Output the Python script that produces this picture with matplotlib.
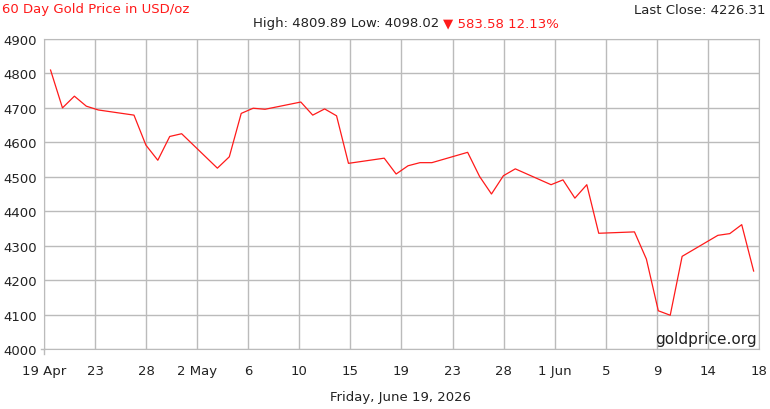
import pandas as pd
import numpy as np
import matplotlib
matplotlib.use('Agg')
import matplotlib.pyplot as plt

# daily closes (USD/oz)
dates = ['2026-04-20', '2026-04-21', '2026-04-22', '2026-04-23', '2026-04-24',
         '2026-04-27', '2026-04-28', '2026-04-29', '2026-04-30', '2026-05-01',
         '2026-05-04', '2026-05-05', '2026-05-06', '2026-05-07', '2026-05-08',
         '2026-05-11', '2026-05-12', '2026-05-13', '2026-05-14', '2026-05-15',
         '2026-05-18', '2026-05-19', '2026-05-20', '2026-05-21', '2026-05-22',
         '2026-05-25', '2026-05-26', '2026-05-27', '2026-05-28', '2026-05-29',
         '2026-06-01', '2026-06-02', '2026-06-03', '2026-06-04', '2026-06-05',
         '2026-06-08', '2026-06-09', '2026-06-10', '2026-06-11', '2026-06-12',
         '2026-06-15', '2026-06-16', '2026-06-17', '2026-06-18']
prices = [4809.89, 4700, 4734, 4705, 4694,
          4679, 4592, 4548, 4617, 4625,
          4525, 4558, 4684, 4699, 4696,
          4717, 4679, 4697, 4677, 4539,
          4554, 4508, 4532, 4541, 4541,
          4571, 4501, 4450, 4503, 4523,
          4477, 4491, 4438, 4477, 4336,
          4340, 4261, 4111, 4098.02, 4269,
          4330, 4335, 4361, 4226.31]

tick_labels = ['19 Apr', '23', '28', '2 May', '6', '10', '15', '19', '23', '28',
               '1 Jun', '5', '9', '14', '18']
y_ticks = [4000, 4100, 4200, 4300, 4400, 4500, 4600, 4700, 4800, 4900]

start = pd.Timestamp('2026-04-19')
x = np.array([(pd.Timestamp(d) - start).days for d in dates], dtype=float)
x0 = 0.45  # axis starts a little after midnight 19 Apr

fig = plt.figure(figsize=(7.7, 4.1), dpi=100)
ax = fig.add_axes([44 / 770, 60 / 410, 715 / 770, 310 / 410])

ax.plot(x, prices, color='#ff1a1a', linewidth=0.9)

ax.set_xlim(x0, x0 + 60)
ax.set_ylim(4000, 4900)
ax.set_xticks(np.linspace(x0, x0 + 60, 15))
ax.set_xticklabels(tick_labels)
ax.set_yticks(y_ticks)
ax.grid(True, color='#bbbbbb', linewidth=1)
for s in ax.spines.values():
    s.set_color('#bbbbbb')
ax.tick_params(colors='#bbbbbb', labelcolor='#222222', labelsize=9.5, length=0)
ax.tick_params(axis='x', pad=11)
ax.tick_params(axis='y', pad=5)

# small corner marks where the axes meet, like the original
ax.plot([x0, x0], [4000, 3985], color='#bbbbbb', linewidth=1, clip_on=False)
ax.plot([x0, x0 - 0.25], [4000, 4000], color='#bbbbbb', linewidth=1, clip_on=False)

fig.text(2 / 770, 1 - 9 / 410, '60 Day Gold Price in USD/oz', color='#ff1a1a',
         fontsize=9.5, va='center', ha='left')
fig.text(765 / 770, 1 - 11 / 410, 'Last Close: 4226.31', color='#222222',
         fontsize=9.5, va='center', ha='right')
fig.text(439 / 770, 1 - 24 / 410, 'High: 4809.89 Low: 4098.02', color='#222222',
         fontsize=9.5, va='center', ha='right')
fig.text(443 / 770, 1 - 24 / 410, '\u25bc 583.58 12.13%', color='#ff1a1a',
         fontsize=9.5, va='center', ha='left')
ax.text(0.997, 0.01, 'goldprice.org', transform=ax.transAxes, fontsize=11,
        color='#222222', ha='right', va='bottom')
fig.text(401 / 770, 1 - 398 / 410, 'Friday, June 19, 2026', color='#222222',
         fontsize=9.5, va='center', ha='center')

fig.savefig('out.png', dpi=100)
